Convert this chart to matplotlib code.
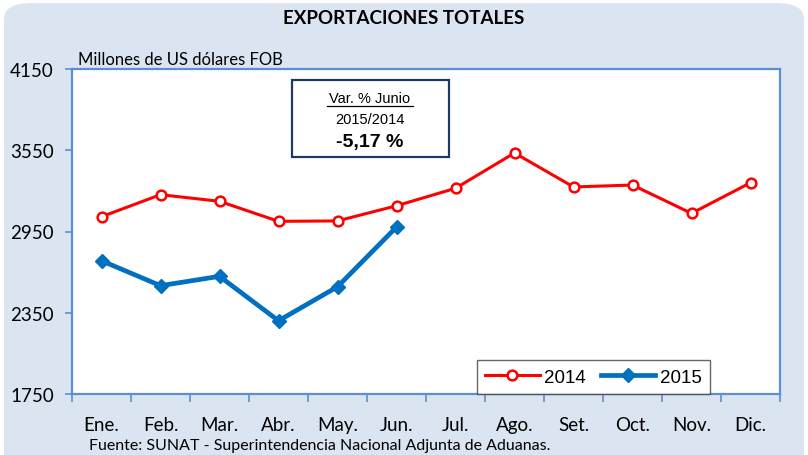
import matplotlib.pyplot as plt
from matplotlib.patches import FancyBboxPatch, Rectangle
from matplotlib.lines import Line2D

months = ["Ene.", "Feb.", "Mar.", "Abr.", "May.", "Jun.",
          "Jul.", "Ago.", "Set.", "Oct.", "Nov.", "Dic."]
exp_2014 = [3059, 3222, 3173, 3025, 3028, 3140, 3269, 3530, 3279, 3293, 3084, 3310]
exp_2015 = [2734, 2550, 2619, 2291, 2542, 2983]
yticks = [1750, 2350, 2950, 3550, 4150]

W, H = 808, 456
BG = "#DBE5F1"
AXIS_BLUE = "#5B8ED6"
CAL = ["Lato", "DejaVu Sans"]
ARIAL = ["Liberation Sans", "DejaVu Sans"]

fig = plt.figure(figsize=(W / 100, H / 100), dpi=100, facecolor="white")

# rounded light-blue chart area
fig.patches.append(FancyBboxPatch((4 / W, -0.2), 1 - 8 / W, 1.2 - 4 / H,
                                  boxstyle="round,pad=0,rounding_size=0.035",
                                  transform=fig.transFigure, facecolor=BG,
                                  edgecolor="none", zorder=-5))

ax = fig.add_axes([72 / W, 61 / H, 708 / W, 325 / H])
ax.set_facecolor("white")

x = list(range(len(months)))
ax.plot(x, exp_2014, color="#FF0000", lw=2.2, marker="o", ms=7,
        mfc="white", mec="#FF0000", mew=1.8, label="2014", zorder=3)
ax.plot(x[:len(exp_2015)], exp_2015, color="#0070C0", lw=3.4, marker="D",
        ms=7, mfc="#0070C0", mec="#0070C0", label="2015", zorder=4)

ax.set_xlim(-0.5, 11.5)
ax.set_ylim(1750, 4150)
ax.set_yticks(yticks)
ax.set_yticklabels([str(v) for v in yticks], fontfamily=CAL, fontsize=13.5)
ax.set_xticks(x)
ax.set_xticklabels(months, fontfamily=CAL, fontsize=13.5)
ax.set_xticks([i + 0.5 for i in range(-1, 12)], minor=True)
ax.tick_params(axis="x", which="major", length=0, pad=16)
ax.tick_params(axis="x", which="minor", length=6, width=1.2, color=AXIS_BLUE)
ax.tick_params(axis="y", length=5, width=1.2, color=AXIS_BLUE, pad=8)
for s in ax.spines.values():
    s.set_color(AXIS_BLUE)
    s.set_linewidth(1.6)

leg = ax.legend(loc="lower left", bbox_to_anchor=(0.5716, 0.0), ncol=2,
                frameon=True, fancybox=False, borderaxespad=0,
                prop={"family": ARIAL, "size": 13.5}, handlelength=2.9,
                columnspacing=0.8, handletextpad=0.25, borderpad=0.45)
leg.get_frame().set_edgecolor("#404040")
leg.get_frame().set_linewidth(1.0)

# variation box
fig.patches.append(Rectangle((292 / W, 1 - 158 / H), 157 / W, 77 / H,
                             transform=fig.transFigure, facecolor="white",
                             edgecolor="#1F3864", lw=1.6, zorder=5))
fig.text(370 / W, 1 - 99 / H, "Var. % Junio", ha="center", va="center",
         fontfamily=ARIAL, fontsize=10.5, zorder=6)
fig.add_artist(Line2D([327 / W, 413 / W], [1 - 107 / H, 1 - 107 / H],
                      transform=fig.transFigure, color="black", lw=0.9, zorder=6))
fig.text(370 / W, 1 - 120 / H, "2015/2014", ha="center", va="center",
         fontfamily=ARIAL, fontsize=10.5, zorder=6)
fig.text(370 / W, 1 - 143 / H, "-5,17 %", ha="center", va="center",
         fontfamily=ARIAL, fontsize=14, fontweight="bold", zorder=6)

fig.text(404 / W, 1 - 19 / H, "EXPORTACIONES TOTALES", ha="center",
         va="center", fontfamily=CAL, fontsize=13.5, fontweight="bold")
fig.text(78 / W, 1 - 60 / H, "Millones de US dólares FOB", ha="left",
         va="center", fontfamily=CAL, fontsize=12)
fig.text(89 / W, 1 - 446 / H, "Fuente: SUNAT - Superintendencia Nacional Adjunta de Aduanas.",
         ha="left", va="center", fontfamily=CAL, fontsize=11.5)

fig.savefig("out.png", dpi=100, facecolor=fig.get_facecolor())
